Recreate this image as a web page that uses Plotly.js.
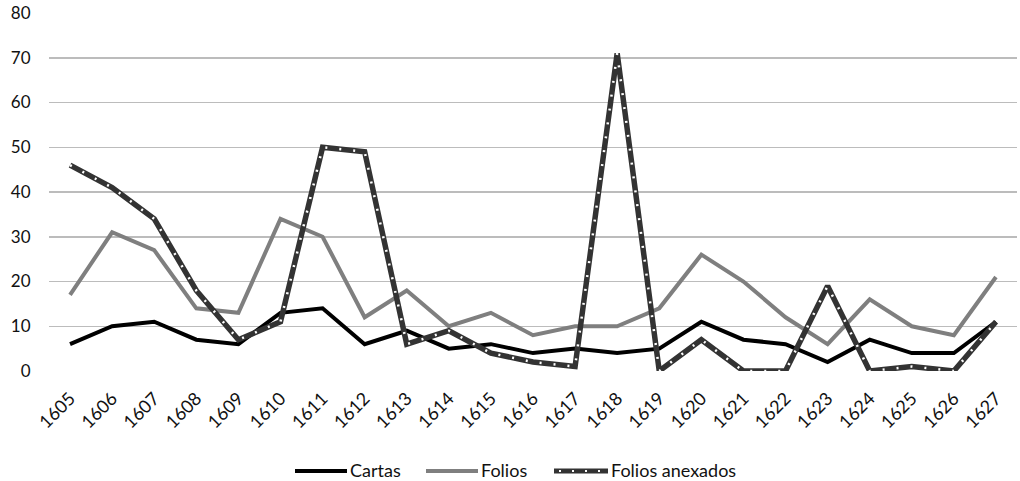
<!DOCTYPE html>
<html><head><meta charset="utf-8">
<script src="https://cdn.plot.ly/plotly-3.0.1.min.js"></script>
<style>html,body{margin:0;padding:0;background:#fff}#chart{width:1020px;height:481px}</style>
</head><body><div id="chart"></div>
<script>
const years = ["1605","1606","1607","1608","1609","1610","1611","1612","1613","1614","1615","1616","1617","1618","1619","1620","1621","1622","1623","1624","1625","1626","1627"];
const cartas = [6,10,11,7,6,13,14,6,9,5,6,4,5,4,5,11,7,6,2,7,4,4,11];
const folios = [17,31,27,14,13,34,30,12,18,10,13,8,10,10,14,26,20,12,6,16,10,8,21];
const foliosAnexados = [46,41,34,18,7,11,50,49,6,9,4,2,1,71,0,7,0,0,19,0,1,0,11];
const yTicks = [0,10,20,30,40,50,60,70,80];
const seriesNames = ['Cartas', 'Folios', 'Folios anexados'];

const FONT = 'Lato, "Noto Sans", sans-serif';
const DOTS = '2px,12px';
const traces = [
  {x: years, y: cartas, name: seriesNames[0], type: 'scatter', mode: 'lines',
   line: {color: '#000000', width: 4}},
  {x: years, y: folios, name: seriesNames[1], type: 'scatter', mode: 'lines',
   line: {color: '#7f7f7f', width: 4}},
  {x: years, y: foliosAnexados, name: seriesNames[2], type: 'scatter', mode: 'lines',
   line: {color: '#333333', width: 5.5}},
  {x: years, y: foliosAnexados, name: seriesNames[2], type: 'scatter', mode: 'lines',
   hoverinfo: 'skip', line: {color: '#ffffff', width: 2.5, dash: DOTS}}
];

// custom legend (paper coords: plot spans x 49..1017 px, y 13..371 px)
const px2x = p => (p - 49) / 968;
const py2y = p => (371 - p) / 358;
const legY = py2y(471);
const legendItems = [
  {x0: 295, x1: 347, color: '#000000', width: 4, text: seriesNames[0]},
  {x0: 426, x1: 478, color: '#7f7f7f', width: 4, text: seriesNames[1]},
  {x0: 554, x1: 608, color: '#333333', width: 5, text: seriesNames[2], dots: true}
];
const shapes = [];
const annotations = [];
legendItems.forEach(it => {
  shapes.push({type: 'line', xref: 'paper', yref: 'paper', x0: px2x(it.x0), x1: px2x(it.x1),
               y0: legY, y1: legY, line: {color: it.color, width: it.width}});
  if (it.dots) {
    shapes.push({type: 'line', xref: 'paper', yref: 'paper', x0: px2x(it.x0 + 5), x1: px2x(it.x1 - 4),
                 y0: legY, y1: legY, line: {color: '#ffffff', width: 2, dash: '2px,11px'}});
  }
  annotations.push({xref: 'paper', yref: 'paper', x: px2x(it.x1 + 1), y: py2y(470),
                    xanchor: 'left', yanchor: 'middle', showarrow: false, text: it.text,
                    font: {family: FONT, size: 18, color: '#111'}});
});

const layout = {
  width: 1020, height: 481,
  margin: {l: 49, r: 3, t: 13, b: 110},
  paper_bgcolor: '#ffffff', plot_bgcolor: '#ffffff',
  font: {family: FONT, color: '#222', size: 14},
  showlegend: false,
  shapes: shapes,
  annotations: annotations,
  xaxis: {type: 'category', tickangle: -45, showgrid: false, showline: false, zeroline: false,
          ticks: 'outside', ticklen: 9, tickcolor: 'rgba(0,0,0,0)',
          tickfont: {size: 18, color: '#111'}, range: [-0.5, 22.5]},
  yaxis: {range: [0, 80], tickvals: yTicks, ticktext: yTicks.map(String),
          showgrid: true, gridcolor: '#bcbcbc', gridwidth: 1.5, zeroline: false,
          showline: false, ticks: 'outside', ticklen: 14, tickcolor: 'rgba(0,0,0,0)',
          tickfont: {size: 17, color: '#111'}}
};

Plotly.newPlot('chart', traces, layout, {displayModeBar: false, staticPlot: true});
</script></body></html>
